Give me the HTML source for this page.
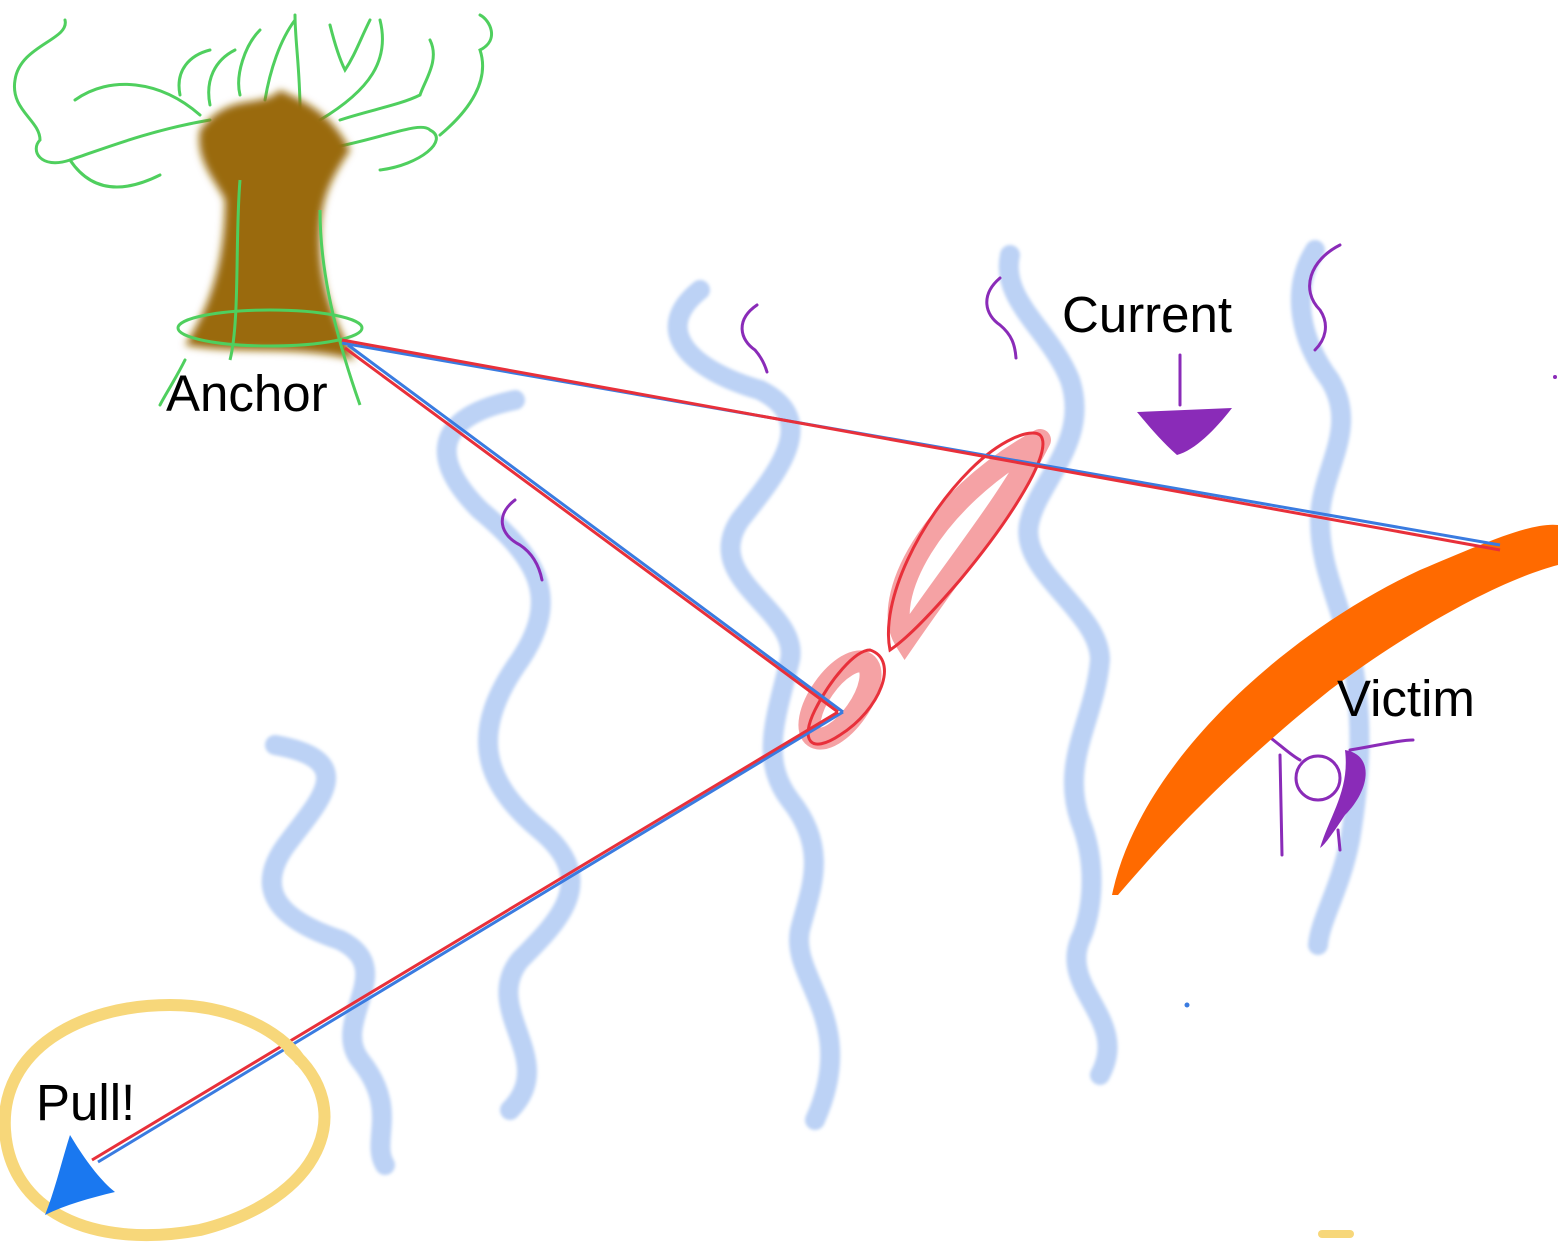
<!DOCTYPE html>
<html><head><meta charset="utf-8"><style>
html,body{margin:0;padding:0;background:#fff;}
svg{display:block;}
text{font-family:"Liberation Sans",sans-serif;fill:#000;}
</style></head><body>
<svg width="1560" height="1257" viewBox="0 0 1560 1257" xmlns="http://www.w3.org/2000/svg">
<defs>
<filter id="blur"><feGaussianBlur stdDeviation="4"/></filter>
<filter id="sb"><feGaussianBlur stdDeviation="1.5"/></filter>
</defs>
<g fill="none" stroke="#bcd2f5" stroke-width="20" stroke-linecap="round" filter="url(#sb)">
<path d="M275,745 C360,760 320,800 290,840 C250,890 280,920 340,940 C400,970 330,1020 360,1060 C400,1110 370,1140 385,1165"/>
<path d="M515,400 C420,420 440,470 480,510 C540,560 560,600 520,660 C470,730 480,780 540,830 C600,880 560,920 520,960 C480,1010 560,1060 510,1110"/>
<path d="M700,290 C650,330 690,370 760,390 C820,420 780,470 740,520 C700,580 800,610 790,660 C775,720 760,760 790,800 C830,850 810,890 800,930 C790,980 860,1020 815,1120"/>
<path d="M1010,255 C1000,300 1050,330 1070,380 C1090,440 1040,480 1030,520 C1015,570 1100,610 1100,660 C1095,720 1060,760 1080,820 C1100,870 1090,920 1080,940 C1060,990 1130,1020 1100,1075"/>
<path d="M1315,250 C1290,290 1300,340 1330,380 C1360,430 1320,470 1320,520 C1320,570 1340,600 1350,650 C1365,720 1360,780 1350,840 C1340,890 1320,920 1318,945"/>
</g>
<g fill="none" stroke="#4fcf5e" stroke-width="3" stroke-linecap="round">
<path d="M65,20 C70,40 20,45 15,80 C10,110 40,120 40,140 C30,150 40,170 70,160 C100,150 150,130 210,120"/>
<path d="M70,160 C90,190 120,195 160,175"/>
<path d="M75,100 C110,75 160,80 200,115"/>
<path d="M180,95 C175,70 190,55 210,50 M210,105 C205,80 215,60 235,50 M240,95 C235,75 245,45 260,30 M265,100 C270,70 280,40 295,20 M300,110 C300,70 295,40 295,15"/>
<path d="M330,25 C335,45 340,60 345,70 C355,55 360,40 370,20"/>
<path d="M380,20 C390,60 370,90 320,120 M340,120 C370,110 400,105 420,95 C425,80 440,60 430,40 M320,150 C380,140 420,120 430,130 C450,140 420,165 380,170 M440,135 C470,110 490,80 480,50 C500,40 490,20 480,15"/>
<path d="M185,360 C175,380 165,395 160,405"/>
</g>
<path d="M200,130 C230,90 260,110 280,90 C300,100 330,110 350,150 C330,180 320,200 320,240 C320,290 335,320 355,360 C300,345 240,355 185,345 C215,300 225,250 225,200 C215,180 195,160 200,130 Z" fill="#9a6b08" filter="url(#blur)"/>
<g fill="none" stroke="#4fcf5e" stroke-width="3"><path d="M320,210 C320,260 330,320 360,405 M240,180 C235,240 240,320 230,360"/><ellipse cx="270" cy="328" rx="92" ry="18"/></g>
<g fill="none" stroke="#8a2bb8" stroke-width="3" stroke-linecap="round">
<path d="M757,305 C735,320 740,340 755,350 C762,358 765,365 767,372"/>
<path d="M515,500 C495,515 500,535 520,545 C535,555 540,570 542,580"/>
<path d="M1000,278 C980,295 985,315 1000,325 C1012,335 1015,345 1016,358"/>
<path d="M1340,245 C1310,260 1300,290 1320,310 C1330,325 1325,340 1315,350"/>
<path d="M1180,355 L1180,405"/>
<path d="M1260,730 C1275,740 1290,755 1300,760 M1350,750 C1380,745 1400,740 1413,740 M1280,755 L1282,855 M1338,830 L1340,850"/>
<circle cx="1318" cy="778" r="22"/>
</g>
<path d="M1137,412 L1232,408 C1215,430 1195,450 1177,455 C1160,440 1148,425 1137,412 Z" fill="#8a2bb8"/>
<path d="M1345,750 C1375,755 1370,790 1345,815 C1335,830 1325,845 1320,848 C1330,815 1350,790 1345,750 Z" fill="#8a2bb8"/>
<path d="M1112,895 C1140,760 1290,630 1420,570 C1480,545 1530,522 1558,525 L1558,565 C1500,580 1410,630 1330,690 C1230,770 1165,840 1118,895 Z" fill="#ff6a00"/>
<g fill="none" stroke="#f38b8e" stroke-width="22" opacity="0.8" stroke-linecap="round">
<path d="M1040,440 C1010,500 960,560 905,640 C880,600 930,500 1040,440"/>
<ellipse cx="840" cy="700" rx="20" ry="45" transform="rotate(35 840 700)"/>
</g>
<g fill="none" stroke="#e8303a" stroke-width="3">
<path d="M1040,435 C1055,450 1010,520 960,580 C930,615 905,640 890,650 C880,600 920,520 970,470 C1000,440 1030,428 1040,435 Z"/>
<path d="M870,650 C900,660 880,710 840,735 C810,755 800,740 815,710 C830,680 855,650 870,650 Z"/>
</g>
<g fill="none" stroke-width="3">
<path d="M342,343 L1500,545 M348,345 L843,712 M843,712 L98,1162" stroke="#3a7be0"/>
<path d="M342,340 L1500,550 M345,348 L838,712 M838,712 L92,1160" stroke="#e8303a"/>
</g>
<path d="M290,1050 C360,1110 320,1200 200,1230 C90,1250 10,1210 5,1130 C0,1050 80,1005 170,1005 C230,1005 280,1030 300,1060" fill="none" stroke="#f7d77a" stroke-width="12" stroke-linecap="round"/>
<path d="M70,1135 C85,1160 100,1180 115,1192 C90,1198 65,1205 45,1215 C55,1190 62,1160 70,1135 Z" fill="#1a78f0"/>
<circle cx="1187" cy="1005" r="2.5" fill="#3a7be0"/>
<circle cx="1555" cy="377" r="2" fill="#8a2bb8"/>
<rect x="1318" y="1230" width="36" height="8" rx="4" fill="#f7d77a"/>
<text x="166" y="411" font-size="51">Anchor</text>
<text x="1062" y="332" font-size="51">Current</text>
<text x="1337" y="716" font-size="51">Victim</text>
<text x="36" y="1120" font-size="51">Pull!</text>
</svg>
</body></html>
